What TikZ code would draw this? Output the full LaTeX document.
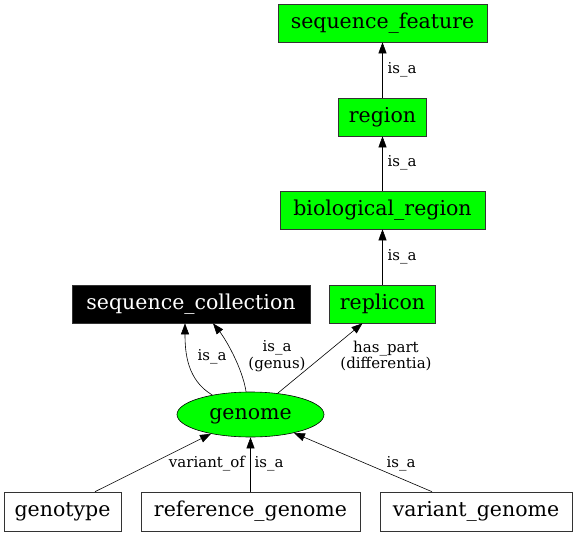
\documentclass[tikz,border=0pt]{standalone}
\usepackage{fontspec}
\setmainfont{DejaVu Serif}
\usetikzlibrary{arrows.meta,shapes.geometric}
\begin{document}
\begin{tikzpicture}[x=1pt,y=-1pt,
  box/.style={draw=black!80,line width=0.6pt,rectangle,inner sep=0pt,minimum height=38pt,text height=15pt,text depth=4.4pt,font=\fontsize{20.5}{24}\selectfont},
  gbox/.style={box,fill=green},
  lbl/.style={font=\fontsize{15}{16.5}\selectfont,inner sep=0pt,align=center},
  rel/.style={draw=black,line width=0.6pt,-{Triangle[length=11pt,width=8pt]}}]
\useasboundingbox[fill=white] (0,0) rectangle (576,536);
% nodes
\node[gbox,minimum width=209pt] (sf) at (382.5,23) {sequence\_feature};
\node[gbox,minimum width=88pt] (rg) at (382.5,117) {region};
\node[gbox,minimum width=205pt] (br) at (382.5,210) {biological\_region};
\node[gbox,minimum width=106pt] (rp) at (382.5,304) {replicon};
\node[box,fill=black,text=white,minimum width=238pt] (sc) at (191,304) {sequence\_collection};
\node[draw=black,line width=0.6pt,ellipse,fill=green,minimum width=147pt,minimum height=45pt,inner sep=0pt,text height=15pt,text depth=4.4pt,font=\fontsize{20.5}{24}\selectfont] (gn) at (250.5,414.5) {genome};
\node[box,minimum width=117pt,minimum height=39pt] (gt) at (62.5,511.5) {genotype};
\node[box,minimum width=219pt,minimum height=39pt] (rf) at (250.5,511.5) {reference\_genome};
\node[box,minimum width=192pt,minimum height=39pt] (vg) at (476,511.5) {variant\_genome};
% edges
\draw[rel] (rg.north) -- (sf.south);
\draw[rel] (br.north) -- (rg.south);
\draw[rel] (rp.north) -- (br.south);
\draw[rel] (gn.153) .. controls +(-25,-15) and +(0,30) .. ([xshift=-6pt]sc.south);
\draw[rel] (gn.101) .. controls +(-4,-25) and +(12,15) .. ([xshift=22pt]sc.south);
\draw[rel] (gn.38) -- ([xshift=-20pt]rp.south);
\draw[rel] ([xshift=32.5pt]gt.north) -- (gn.206);
\draw[rel] (rf.north) -- (gn.south);
\draw[rel] ([xshift=-44pt]vg.north) -- (gn.-23);
% labels
\node[lbl] (l1) at (402,70) {is\_a};
\node[lbl] (l2) at (402,163) {is\_a};
\node[lbl] (l3) at (402,257) {is\_a};
\node[lbl] (l4) at (212,357) {is\_a};
\node[lbl] (l5) at (277,356) {is\_a\\(genus)};
\node[lbl] (l6) at (386,356) {has\_part\\(differentia)};
\node[lbl] (l7) at (207,464) {variant\_of};
\node[lbl] (l8) at (269,464) {is\_a};
\node[lbl] (l9) at (401,464) {is\_a};
\end{tikzpicture}
\end{document}
